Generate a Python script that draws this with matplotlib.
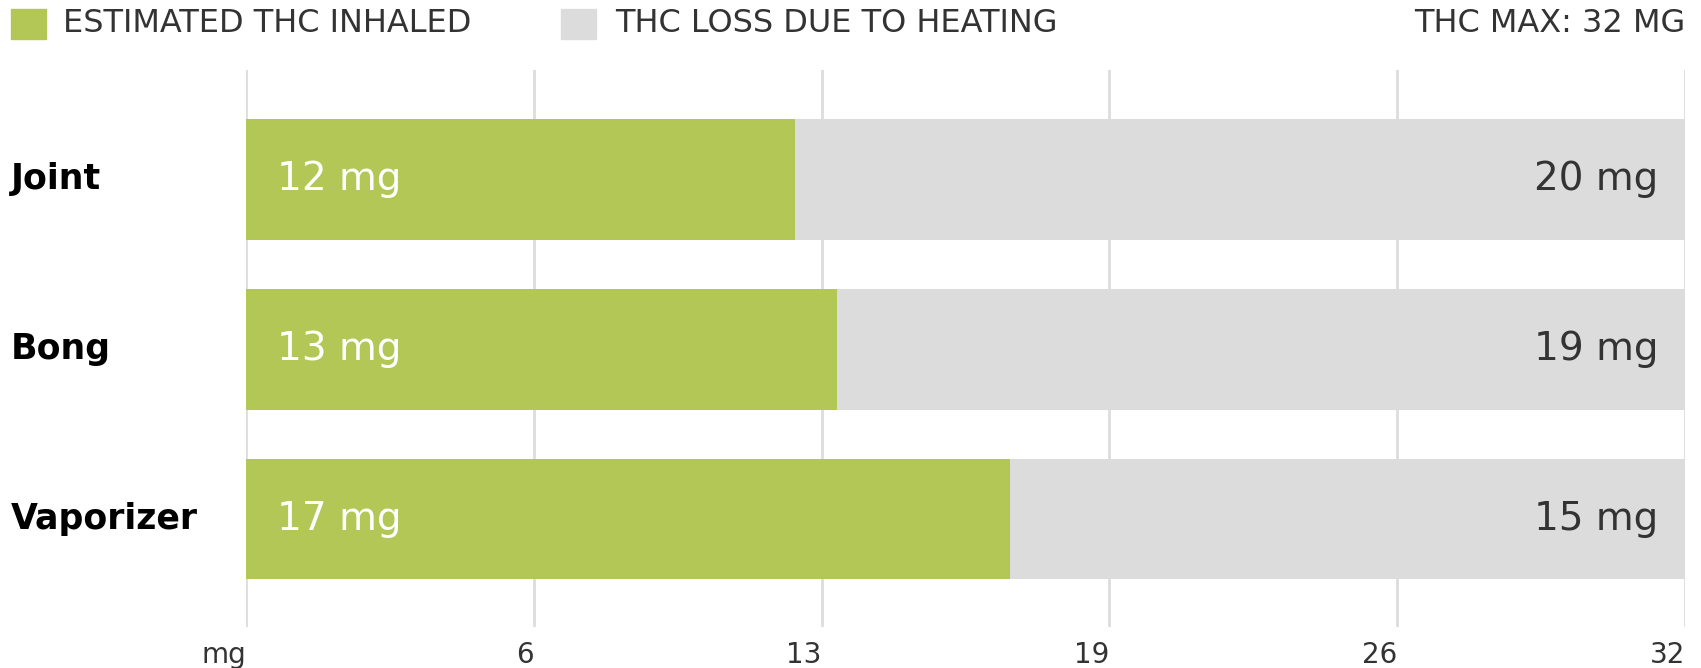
import matplotlib.pyplot as plt
import matplotlib.transforms as mtransforms
from matplotlib.patches import Rectangle

# data (mg of THC)
methods = ["Joint", "Bong", "Vaporizer"]
inhaled = [12.2, 13.15, 17.0]
heat_loss = [19.8, 18.85, 15.0]
thc_max = 32
tick_pos = [0, 6.4, 12.8, 19.2, 25.6, 32]
tick_labels = ["mg", "6", "13", "19", "26", "32"]

GREEN = "#b3c756"
GRAY = "#dcdcdc"
TXT = "#333333"

W, H = 1701, 668
fig = plt.figure(figsize=(W / 100, H / 100), dpi=100)
ax = fig.add_axes([246 / W, 41 / H, (1685 - 246) / W, 557 / H])

y = list(range(len(methods)))
ax.barh(y, inhaled, height=0.71, color=GREEN, zorder=2)
ax.barh(y, heat_loss, left=inhaled, height=0.71, color=GRAY, zorder=2)

ax.set_xlim(0, thc_max)
ax.set_ylim(2.635, -0.644)
ax.set_yticks([])
ax.set_xticks(tick_pos)
ax.set_xticklabels(tick_labels, ha="right", fontsize=20, color=TXT)
ax.tick_params(axis="x", length=0, pad=10)
ax.grid(axis="x", color="#dddddd", linewidth=2, zorder=0)
ax.set_axisbelow(True)
for s in ax.spines.values():
    s.set_visible(False)

# value labels inside the bars
for i in y:
    ax.annotate(f"{round(inhaled[i])} mg", xy=(0, i), xytext=(22, 0),
                textcoords="offset points", ha="left", va="center",
                fontsize=28, color="white", zorder=3)
    ax.annotate(f"{round(heat_loss[i])} mg", xy=(thc_max, i), xytext=(-19, 0),
                textcoords="offset points", ha="right", va="center",
                fontsize=28, color=TXT, zorder=3)

# category labels at the far left of the figure
trans = mtransforms.blended_transform_factory(fig.transFigure, ax.transData)
for i, name in enumerate(methods):
    ax.text(11 / W, i, name, transform=trans, ha="left", va="center",
            fontsize=25, fontweight="bold", color="black")

# legend row on top
fig.patches.append(Rectangle((11 / W, 1 - 39 / H), 35 / W, 30 / H,
                             transform=fig.transFigure, color=GREEN))
fig.text(63 / W, 1 - 24 / H, "ESTIMATED THC INHALED", ha="left", va="center",
         fontsize=23, color=TXT)
fig.patches.append(Rectangle((561 / W, 1 - 39 / H), 35 / W, 30 / H,
                             transform=fig.transFigure, color=GRAY))
fig.text(615 / W, 1 - 24 / H, "THC LOSS DUE TO HEATING", ha="left", va="center",
         fontsize=23, color=TXT)
fig.text(1685 / W, 1 - 24 / H, "THC MAX: 32 MG", ha="right", va="center",
         fontsize=23, color=TXT)

fig.savefig("out.png", dpi=100)
